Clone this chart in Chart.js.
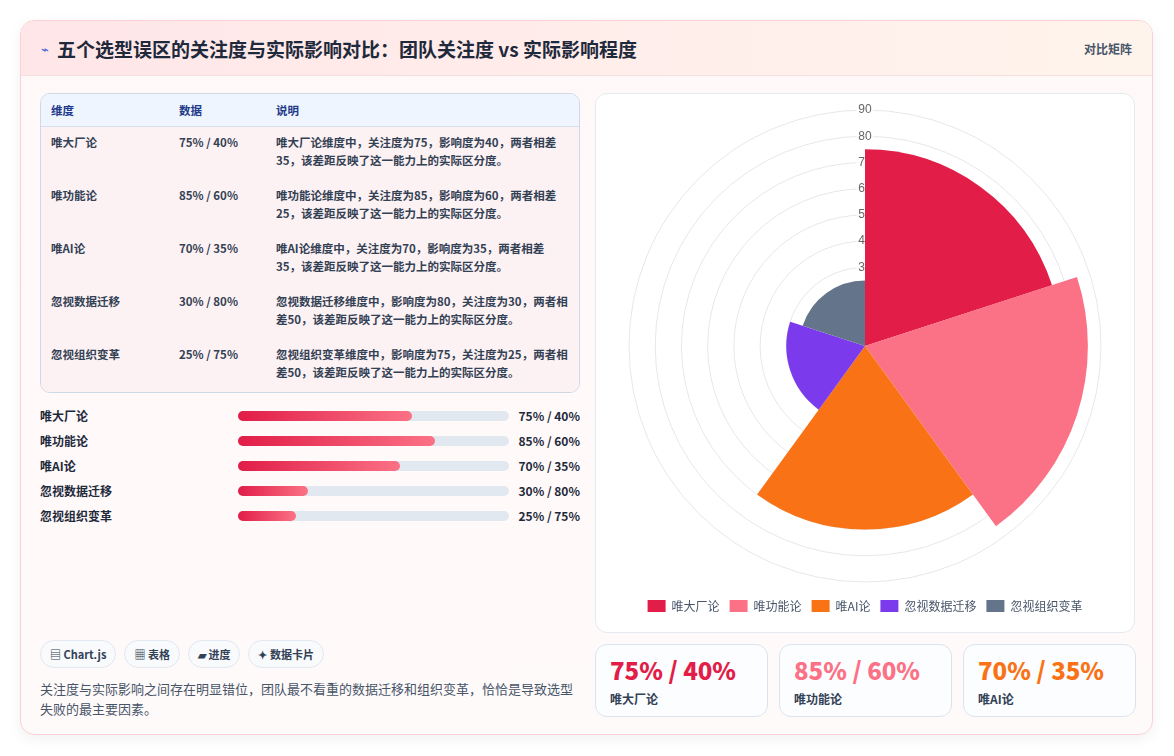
<!DOCTYPE html>
<html><head><meta charset="utf-8">
<script src="https://cdn.jsdelivr.net/npm/chart.js@4.4.0/dist/chart.umd.min.js"></script>
<style>
*{box-sizing:border-box;margin:0;padding:0}
body{width:1174px;height:756px;background:#fff;font-family:"Noto Sans CJK SC","Noto Sans",sans-serif;overflow:hidden}
.card{position:absolute;left:20px;top:20px;width:1133px;height:715px;border:1px solid #fbd0d6;border-radius:14px;background:linear-gradient(180deg,#fff8f8,#fffafa);box-shadow:0 4px 14px rgba(0,0,0,.06);overflow:hidden}
.head{height:55px;background:linear-gradient(90deg,#ffe6e8,#fff4ec);border-bottom:1px solid #f5dede;display:flex;align-items:center;padding-left:20px}
.head h1{font-size:19px;font-weight:700;color:#1e293b;margin-left:8px}
.head .r{position:absolute;right:20px;top:19px;font-size:12px;color:#475569;font-weight:600}
table{position:absolute;left:19px;top:72px;width:540px;border:1px solid #cfd8e6;border-radius:10px;border-collapse:separate;border-spacing:0;overflow:hidden;font-size:11.5px;color:#334155}
th{background:#eef5fe;color:#1e3a8a;text-align:left;font-weight:700;height:33px;padding-left:10px;border-bottom:1px solid #d7dfea}
td{padding:6px 10px;vertical-align:top;height:53px;line-height:18px;border-bottom:1px solid #e5e9f0;font-weight:600}
tr:nth-child(odd) td{background:#fdf2f3}
tr:nth-child(even) td{background:#f7f9fc}
tr:last-child td{border-bottom:none}
.bars{position:absolute;left:19px;top:382px;width:540px}
.br{display:flex;align-items:center;height:25px;font-size:12px;font-weight:700;color:#1e293b}
.br .l{width:198px}
.br .t{width:271px;height:10px;border-radius:5px;background:#e2e8f0;position:relative}
.br .f{height:10px;border-radius:5px;background:linear-gradient(90deg,#e11d48,#fb7185)}
.br .v{margin-left:8px;width:63px;text-align:right}
.tags{position:absolute;left:19px;top:619px;display:flex;gap:8px}
.tag{height:28px;padding:0 9px;border:1px solid #e2e8f0;border-radius:14px;background:#f8fafc;font-size:11px;font-weight:700;color:#334155;display:flex;align-items:center}
.note{position:absolute;left:19px;top:658px;width:545px;font-size:13px;color:#475569;line-height:20px}
.panel{position:absolute;left:574px;top:72px;width:540px;height:540px;background:#fff;border:1px solid #e5e9f0;border-radius:12px}
.kpis{position:absolute;left:574px;top:623px;display:flex;gap:11px}
.kpi{width:173px;height:73px;border:1px solid #dbe4ee;border-radius:12px;background:#fbfdff;padding:10px 14px}
.kpi b{display:block;font-size:24px;font-weight:800;line-height:30px}
.kpi span{font-size:12px;color:#334155;font-weight:600}
</style></head><body>
<div class="card">
<div class="head"><span style="color:#3b5bdb;font-size:13px">⌁</span><h1>五个选型误区的关注度与实际影响对比：团队关注度 vs 实际影响程度</h1><span class="r">对比矩阵</span></div>
<table id="tb"><tr><th style="width:128px">维度</th><th style="width:97px">数据</th><th>说明</th></tr></table>
<div class="bars" id="bars"></div>
<div class="tags"><div class="tag">▤ Chart.js</div><div class="tag">▦ 表格</div><div class="tag">▰ 进度</div><div class="tag">✦ 数据卡片</div></div>
<div class="note">关注度与实际影响之间存在明显错位，团队最不看重的数据迁移和组织变革，恰恰是导致选型失败的最主要因素。</div>
<div class="panel"><canvas id="c" width="538" height="538"></canvas></div>
<div class="kpis" id="kpis"></div>
</div>
<script>
const categories=["唯大厂论","唯功能论","唯AI论","忽视数据迁移","忽视组织变革"];
const attention=[75,85,70,30,25];
const impact=[40,60,35,80,75];
const colors=["#e11d48","#fb7185","#f97316","#7c3aed","#64748b"];
const tb=document.getElementById('tb'),bars=document.getElementById('bars'),kp=document.getElementById('kpis');
categories.forEach((c,i)=>{
  const a=attention[i],b=impact[i],d=Math.abs(a-b);
  const desc=a>=b?`${c}维度中，关注度为${a}，影响度为${b}，两者相差${d}，该差距反映了这一能力上的实际区分度。`:`${c}维度中，影响度为${b}，关注度为${a}，两者相差${d}，该差距反映了这一能力上的实际区分度。`;
  tb.insertAdjacentHTML('beforeend',`<tr><td>${c}</td><td>${a}% / ${b}%</td><td>${desc}</td></tr>`);
  bars.insertAdjacentHTML('beforeend',`<div class="br"><div class="l">${c}</div><div class="t"><div class="f" style="width:${a*0.855}%"></div></div><div class="v">${a}% / ${b}%</div></div>`);
  if(i<3) kp.insertAdjacentHTML('beforeend',`<div class="kpi"><b style="color:${colors[i]}">${a}% / ${b}%</b><span>${c}</span></div>`);
});
new Chart(document.getElementById('c'),{type:'polarArea',
 data:{labels:categories,datasets:[{data:attention,backgroundColor:colors,borderWidth:0}]},
 options:{responsive:false,animation:false,layout:{padding:{top:8,bottom:10}},
  scales:{r:{min:0,max:90,ticks:{stepSize:10,color:'#666',font:{size:12},z:0},grid:{color:'#e5e7eb'}}},
  plugins:{legend:{position:'bottom',labels:{boxWidth:18,boxHeight:12,font:{size:12,family:'Noto Sans CJK SC'},color:'#475569'}}}}});
</script>
</body></html>
